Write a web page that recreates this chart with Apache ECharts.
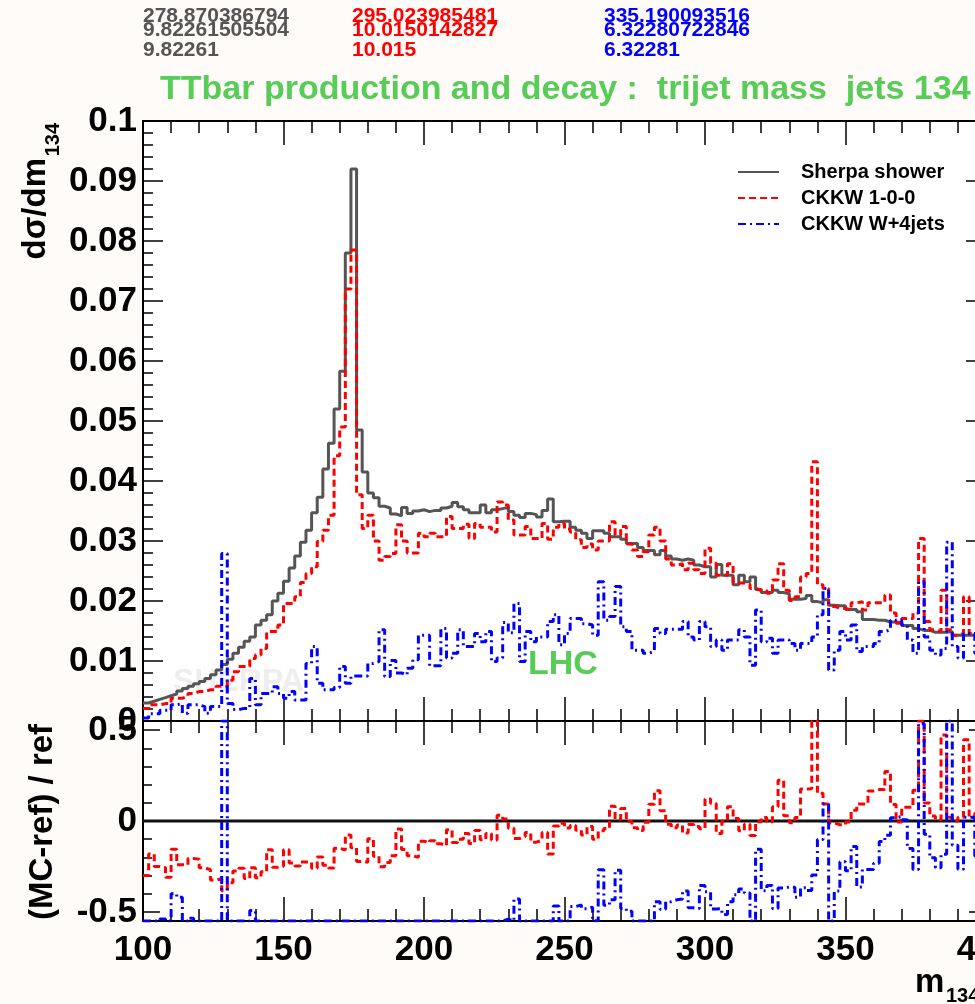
<!DOCTYPE html>
<html>
<head>
<meta charset="utf-8">
<script src="https://cdn.jsdelivr.net/npm/echarts@6/dist/echarts.min.js"></script>
<style>
  html, body { margin: 0; padding: 0; background: #fffbf8; }
  #chart { width: 975px; height: 1004px; }
</style>
</head>
<body>
<div id="chart"></div>
<script>
// histogram binning: 2 GeV bins from 100 to 400
const xMin = 100;
const binWidth = 2;

// Sherpa shower (reference)
const sherpa = [
  0.0030, 0.0033, 0.0036, 0.0039, 0.0042, 0.0045, 0.0050, 0.0054, 0.0058, 0.0062,
  0.0066, 0.0071, 0.0077, 0.0085, 0.0094, 0.0103, 0.0113, 0.0123, 0.0133, 0.0140,
  0.0160, 0.0168, 0.0177, 0.0200, 0.0213, 0.0233, 0.0255, 0.0275, 0.0298, 0.0318,
  0.0347, 0.0373, 0.0420, 0.0463, 0.0520, 0.0583, 0.0780, 0.0920, 0.0485, 0.0415,
  0.0380, 0.0372, 0.0358, 0.0355, 0.0345, 0.0342, 0.0356, 0.0346, 0.0350, 0.0352,
  0.0349, 0.0351, 0.0351, 0.0355, 0.0358, 0.0364, 0.0357, 0.0352, 0.0347, 0.0347,
  0.0360, 0.0347, 0.0352, 0.0354, 0.0356, 0.0349, 0.0343, 0.0339, 0.0346, 0.0344,
  0.0340, 0.0351, 0.0370, 0.0332, 0.0333, 0.0333, 0.0323, 0.0318, 0.0313, 0.0304,
  0.0317, 0.0317, 0.0313, 0.0307, 0.0307, 0.0303, 0.0296, 0.0296, 0.0289, 0.0284,
  0.0284, 0.0277, 0.0284, 0.0275, 0.0270, 0.0268, 0.0270, 0.0268, 0.0260, 0.0257,
  0.0257, 0.0240, 0.0261, 0.0243, 0.0243, 0.0227, 0.0243, 0.0232, 0.0240, 0.0219,
  0.0214, 0.0214, 0.0218, 0.0214, 0.0212, 0.0203, 0.0203, 0.0204, 0.0209, 0.0199,
  0.0197, 0.0202, 0.0193, 0.0192, 0.0192, 0.0186, 0.0186, 0.0182, 0.0169, 0.0169,
  0.0168, 0.0168, 0.0165, 0.0165, 0.0164, 0.0159, 0.0159, 0.0154, 0.0151, 0.0151,
  0.0148, 0.0148, 0.0148, 0.0149, 0.0143, 0.0143, 0.0143, 0.0143, 0.0140, 0.0135
];

// CKKW 1-0-0
const ckkw100 = [
  0.0021, 0.0027, 0.0027, 0.0029, 0.0029, 0.0038, 0.0038, 0.0041, 0.0046, 0.0049,
  0.0049, 0.0052, 0.0052, 0.0058, 0.0058, 0.0068, 0.0082, 0.0091, 0.0091, 0.0104,
  0.0110, 0.0121, 0.0149, 0.0149, 0.0160, 0.0196, 0.0196, 0.0207, 0.0231, 0.0246,
  0.0257, 0.0299, 0.0318, 0.0343, 0.0442, 0.0490, 0.0720, 0.0785, 0.0377, 0.0321,
  0.0343, 0.0300, 0.0268, 0.0274, 0.0279, 0.0327, 0.0300, 0.0280, 0.0280, 0.0313,
  0.0307, 0.0313, 0.0307, 0.0307, 0.0341, 0.0321, 0.0321, 0.0328, 0.0304, 0.0329,
  0.0323, 0.0323, 0.0315, 0.0365, 0.0360, 0.0335, 0.0310, 0.0310, 0.0324, 0.0304,
  0.0304, 0.0329, 0.0303, 0.0323, 0.0329, 0.0320, 0.0315, 0.0302, 0.0289, 0.0295,
  0.0285, 0.0300, 0.0300, 0.0332, 0.0310, 0.0324, 0.0295, 0.0285, 0.0274, 0.0282,
  0.0310, 0.0323, 0.0300, 0.0270, 0.0260, 0.0262, 0.0252, 0.0263, 0.0252, 0.0246,
  0.0288, 0.0263, 0.0243, 0.0243, 0.0262, 0.0230, 0.0230, 0.0228, 0.0221, 0.0218,
  0.0218, 0.0213, 0.0235, 0.0262, 0.0218, 0.0201, 0.0207, 0.0240, 0.0246, 0.0432,
  0.0227, 0.0221, 0.0191, 0.0188, 0.0188, 0.0185, 0.0197, 0.0199, 0.0185, 0.0197,
  0.0197, 0.0197, 0.0210, 0.0180, 0.0163, 0.0171, 0.0171, 0.0180, 0.0304, 0.0166,
  0.0152, 0.0149, 0.0218, 0.0152, 0.0143, 0.0146, 0.0207, 0.0146, 0.0146, 0.0140
];

// CKKW W+4jets
const ckkwW4 = [
  0.0005, 0.0012, 0.0012, 0.0018, 0.0018, 0.0027, 0.0029, 0.0013, 0.0027, 0.0027,
  0.0024, 0.0013, 0.0024, 0.0024, 0.0279, 0.0029, 0.0019, 0.0021, 0.0021, 0.0071,
  0.0027, 0.0046, 0.0046, 0.0057, 0.0046, 0.0038, 0.0049, 0.0035, 0.0035, 0.0096,
  0.0124, 0.0063, 0.0052, 0.0052, 0.0056, 0.0091, 0.0063, 0.0075, 0.0075, 0.0075,
  0.0096, 0.0099, 0.0152, 0.0074, 0.0101, 0.0080, 0.0077, 0.0088, 0.0102, 0.0143,
  0.0143, 0.0092, 0.0092, 0.0154, 0.0105, 0.0113, 0.0152, 0.0124, 0.0124, 0.0146,
  0.0132, 0.0149, 0.0099, 0.0105, 0.0164, 0.0147, 0.0196, 0.0099, 0.0149, 0.0132,
  0.0140, 0.0140, 0.0166, 0.0177, 0.0127, 0.0146, 0.0171, 0.0171, 0.0162, 0.0160,
  0.0143, 0.0232, 0.0168, 0.0174, 0.0224, 0.0157, 0.0149, 0.0118, 0.0118, 0.0113,
  0.0116, 0.0154, 0.0146, 0.0153, 0.0153, 0.0153, 0.0166, 0.0140, 0.0135, 0.0166,
  0.0157, 0.0124, 0.0135, 0.0118, 0.0135, 0.0135, 0.0152, 0.0140, 0.0093, 0.0185,
  0.0132, 0.0138, 0.0113, 0.0135, 0.0135, 0.0129, 0.0118, 0.0129, 0.0129, 0.0140,
  0.0177, 0.0221, 0.0085, 0.0118, 0.0149, 0.0135, 0.0160, 0.0116, 0.0124, 0.0124,
  0.0129, 0.0149, 0.0152, 0.0168, 0.0168, 0.0160, 0.0135, 0.0113, 0.0232, 0.0140,
  0.0118, 0.0110, 0.0121, 0.0298, 0.0124, 0.0105, 0.0146, 0.0146, 0.0113, 0.0120
];

const seriesNames = ['Sherpa shower', 'CKKW 1-0-0', 'CKKW W+4jets'];
const statsSherpa = ['278.870386794', '9.82261505504', '9.82261'];
const statsCkkw = ['295.023985481', '10.0150142827', '10.015'];
const statsW4 = ['335.190093516', '6.32280722846', '6.32281'];

// ratio panel axis
const ratioMin = -0.55;
const ratioMax = 0.55;
const ratioMajor = [-0.5, 0, 0.5];
const ratioMinor = [-0.4, -0.3, -0.2, -0.1, 0.1, 0.2, 0.3, 0.4];

const FONT = '"Liberation Sans", Arial, Helvetica, sans-serif';
const GREEN = '#57cc57';
const GRAY = '#555555';

// histogram as step line: points at lower bin edges + closing edge
const edges = sherpa.map((_, i) => xMin + i * binWidth).concat([xMin + sherpa.length * binWidth]);
function hist(vals) {
  return edges.map((x, i) => [x, vals[Math.min(i, vals.length - 1)]]);
}
// (MC-ref)/ref, held at the panel edges like ROOT does
function ratio(vals) {
  const r = vals.map((v, i) => Math.max(ratioMin, Math.min(ratioMax, (v - sherpa[i]) / sherpa[i])));
  return hist(r);
}

const chart = echarts.init(document.getElementById('chart'), null, { renderer: 'canvas' });

const tickLine = { color: '#000', width: 1.5 };
function xAxisFor(grid, position, withLabels) {
  return {
    type: 'value', gridIndex: grid, position: position,
    min: 100, max: 400, interval: 50,
    axisLine: { show: true, onZero: false, lineStyle: { color: '#000', width: 2 } },
    axisTick: { show: true, inside: true, length: 24, lineStyle: tickLine },
    minorTick: { show: true, splitNumber: 5, length: 12, lineStyle: tickLine },
    axisLabel: {
      show: withLabels, color: '#000', fontFamily: FONT, fontWeight: 'bold', fontSize: 35, margin: 12
    },
    splitLine: { show: false },
    minorSplitLine: { show: false }
  };
}

const labelStyle = { color: '#000', fontFamily: FONT, fontWeight: 'bold', fontSize: 35, margin: 6, padding: [8, 0, 0, 0] };

const option = {
  backgroundColor: '#fffbf8',
  animation: false,
  grid: [
    { left: 143, top: 121, width: 843, height: 600, show: true, backgroundColor: '#ffffff', borderWidth: 0, outerBoundsMode: 'none', containLabel: false },
    { left: 143, top: 721, width: 843, height: 200, show: true, backgroundColor: '#ffffff', borderWidth: 0, outerBoundsMode: 'none', containLabel: false }
  ],
  xAxis: [
    xAxisFor(0, 'bottom', false),
    xAxisFor(0, 'top', false),
    xAxisFor(1, 'bottom', true),
    xAxisFor(1, 'top', false)
  ],
  yAxis: [
    {
      type: 'value', gridIndex: 0, position: 'left', min: 0, max: 0.1, interval: 0.01,
      axisLine: { show: true, lineStyle: { color: '#000', width: 2 } },
      axisTick: { show: true, inside: true, length: 20, lineStyle: tickLine },
      minorTick: { show: true, splitNumber: 5, length: 10, lineStyle: tickLine },
      axisLabel: labelStyle,
      splitLine: { show: false }, minorSplitLine: { show: false }
    },
    {
      type: 'value', gridIndex: 0, position: 'right', min: 0, max: 0.1, interval: 0.01,
      axisLine: { show: true, lineStyle: { color: '#000', width: 2 } },
      axisTick: { show: true, inside: true, length: 20, lineStyle: tickLine },
      minorTick: { show: true, splitNumber: 5, length: 10, lineStyle: tickLine },
      axisLabel: { show: false },
      splitLine: { show: false }, minorSplitLine: { show: false }
    },
    {
      type: 'value', gridIndex: 1, position: 'left', min: ratioMin, max: ratioMax,
      axisLine: { show: true, lineStyle: { color: '#000', width: 2 } },
      axisTick: { show: true, inside: true, length: 17, customValues: ratioMajor, lineStyle: tickLine },
      axisLabel: Object.assign({ customValues: ratioMajor }, labelStyle),
      splitLine: { show: false }
    },
    {
      type: 'value', gridIndex: 1, position: 'left', min: ratioMin, max: ratioMax,
      axisLine: { show: false },
      axisTick: { show: true, inside: true, length: 9, customValues: ratioMinor, lineStyle: tickLine },
      axisLabel: { show: false },
      splitLine: { show: false }
    },
    {
      type: 'value', gridIndex: 1, position: 'right', min: ratioMin, max: ratioMax,
      axisLine: { show: true, lineStyle: { color: '#000', width: 2 } },
      axisTick: { show: true, inside: true, length: 17, customValues: ratioMajor, lineStyle: tickLine },
      axisLabel: { show: false },
      splitLine: { show: false }
    }
  ],
  legend: {
    orient: 'vertical', left: 732, top: 156, itemWidth: 41, itemHeight: 14, itemGap: 4,
    itemStyle: { opacity: 0 },
    textStyle: { color: '#000', fontFamily: FONT, fontWeight: 'bold', fontSize: 20, lineHeight: 22, padding: [0, 0, 0, 17] },
    data: seriesNames
  },
  series: [
    {
      name: seriesNames[0], type: 'line', xAxisIndex: 0, yAxisIndex: 0, step: 'end', symbol: 'none',
      data: hist(sherpa), lineStyle: { color: GRAY, width: 3 }, itemStyle: { color: GRAY }, z: 3
    },
    {
      name: seriesNames[1], type: 'line', xAxisIndex: 0, yAxisIndex: 0, step: 'end', symbol: 'none',
      data: hist(ckkw100), lineStyle: { color: '#ff0000', width: 3, type: [7, 4] }, itemStyle: { color: '#ff0000' }, z: 4
    },
    {
      name: seriesNames[2], type: 'line', xAxisIndex: 0, yAxisIndex: 0, step: 'end', symbol: 'none',
      data: hist(ckkwW4), lineStyle: { color: '#0000ff', width: 3, type: [8, 4, 2, 4] }, itemStyle: { color: '#0000ff' }, z: 5
    },
    {
      name: 'ref ratio', type: 'line', xAxisIndex: 2, yAxisIndex: 2, step: 'end', symbol: 'none',
      data: ratio(sherpa), lineStyle: { color: '#111', width: 3 }, z: 3
    },
    {
      name: 'ckkw100 ratio', type: 'line', xAxisIndex: 2, yAxisIndex: 2, step: 'end', symbol: 'none',
      data: ratio(ckkw100), lineStyle: { color: '#ff0000', width: 3, type: [7, 4] }, z: 4
    },
    {
      name: 'w4 ratio', type: 'line', xAxisIndex: 2, yAxisIndex: 2, step: 'end', symbol: 'none',
      data: ratio(ckkwW4), lineStyle: { color: '#0000ff', width: 3, type: [8, 4, 2, 4] }, z: 5
    }
  ],
  graphic: []
};

// stats block at the top
const statCols = [[143, GRAY, statsSherpa], [352, '#ff0000', statsCkkw], [604, '#0000ff', statsW4]];
const statRows = [16, 30, 50];
statCols.forEach(([x, color, lines]) => {
  lines.forEach((t, k) => {
    option.graphic.push({
      type: 'text', x: x, y: statRows[k], z: 10,
      style: { text: t, fill: color, font: 'bold 21px ' + FONT, textAlign: 'left', textVerticalAlign: 'middle' }
    });
  });
});

option.graphic.push(
  {
    type: 'text', x: 160, y: 90, z: 10,
    style: { text: 'TTbar production and decay :  trijet mass  jets 134', fill: GREEN, font: 'bold 34px ' + FONT, textAlign: 'left', textVerticalAlign: 'middle' }
  },
  {
    type: 'text', x: 173, y: 682, z: 1,
    style: { text: 'SHERPA', fill: '#eeeeee', font: 'bold 32px ' + FONT, textAlign: 'left', textVerticalAlign: 'middle' }
  },
  {
    type: 'text', x: 528, y: 665, z: 10,
    style: { text: 'LHC', fill: GREEN, font: 'bold 34px ' + FONT, textAlign: 'left', textVerticalAlign: 'middle' }
  },
  {
    type: 'text', x: 36, y: 158, rotation: Math.PI / 2, z: 10,
    style: { text: 'dσ/dm', fill: '#000', font: 'bold 33px ' + FONT, textAlign: 'right', textVerticalAlign: 'middle' }
  },
  {
    type: 'text', x: 53, y: 123, rotation: Math.PI / 2, z: 10,
    style: { text: '134', fill: '#000', font: 'bold 20px ' + FONT, textAlign: 'right', textVerticalAlign: 'middle' }
  },
  {
    type: 'text', x: 43, y: 822, rotation: Math.PI / 2, z: 10,
    style: { text: '(MC-ref) / ref', fill: '#000', font: 'bold 33px ' + FONT, textAlign: 'center', textVerticalAlign: 'middle' }
  },
  {
    type: 'text', x: 915, y: 983, z: 10,
    style: { text: 'm', fill: '#000', font: 'bold 33px ' + FONT, textAlign: 'left', textVerticalAlign: 'middle' }
  },
  {
    type: 'text', x: 946, y: 996, z: 10,
    style: { text: '134', fill: '#000', font: 'bold 20px ' + FONT, textAlign: 'left', textVerticalAlign: 'middle' }
  }
);

chart.setOption(option);
window.addEventListener('resize', () => chart.resize());
</script>
</body>
</html>
